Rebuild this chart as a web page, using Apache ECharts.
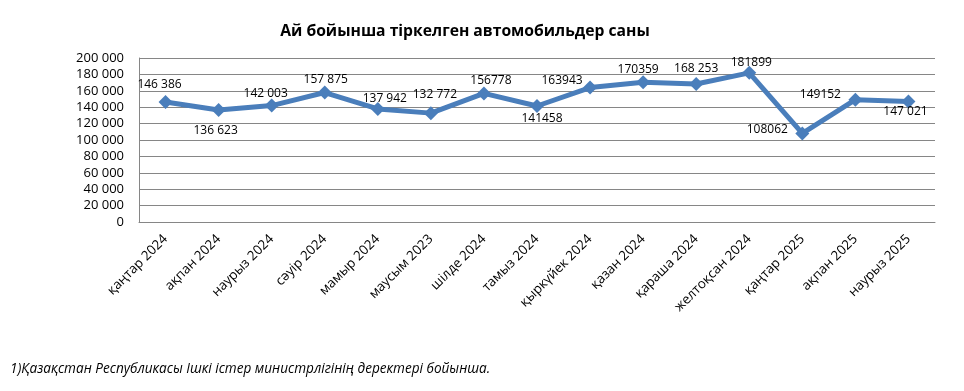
<!DOCTYPE html>
<html><head><meta charset="utf-8">
<script src="https://cdn.jsdelivr.net/npm/echarts@6/dist/echarts.min.js"></script>
<style>html,body{margin:0;padding:0;background:#fff;}#c{width:964px;height:391px;}</style>
</head><body><div id="c"></div>
<script>
const categories = ['қаңтар 2024','ақпан 2024','наурыз 2024','сәуір 2024','мамыр 2024','маусым 2023','шілде 2024','тамыз 2024','қыркүйек 2024','қазан 2024','қараша 2024','желтоқсан 2024','қаңтар 2025','ақпан 2025','наурыз 2025'];
const values = [146386,136623,142003,157875,137942,132772,156778,141458,163943,170359,168253,181899,108062,149152,147021];
const labelTexts = ['146 386','136 623','142 003','157 875','137 942','132 772','156778','141458','163943','170359','168 253','181899','108062','149152','147 021'];
const yTicks = [0,20000,40000,60000,80000,100000,120000,140000,160000,180000,200000];
// label placement (styling): offset of label centre from its point, px
const labelOffsets = [[-6,-17],[-3,21],[-6,-12],[1,-13],[7,-10],[4,-19],[7,-13],[5,13],[-28,-7],[-5,-13],[0,-15],[2,-10],[-35,-4],[-35,-5],[-3,10]];

const fmt = v => v === 0 ? '0' : String(v).replace(/\B(?=(\d{3})+(?!\d))/g, ' ');
const data = values.map((v,i) => ({value:v, label:{position:'inside', offset:labelOffsets[i], formatter:() => labelTexts[i]}}));
const chart = echarts.init(document.getElementById('c'));
chart.setOption({
  animation:false,
  textStyle:{fontFamily:'Open Sans'},
  title:{text:'Ай бойынша тіркелген автомобильдер саны', left:460, top:19, textAlign:'center',
    textStyle:{fontSize:15.7, fontWeight:'bold', color:'#000', fontFamily:'Open Sans'}},
  grid:{left:139, right:29, top:58, bottom:169},
  xAxis:{type:'category', data:categories, boundaryGap:true,
    axisLine:{lineStyle:{color:'#868686'}}, axisTick:{show:false},
    axisLabel:{rotate:45, fontSize:13.3, color:'#000', margin:15, interval:0}},
  yAxis:{type:'value', min:0, max:200000, interval:20000,
    axisLine:{show:true, lineStyle:{color:'#868686'}}, axisTick:{show:false},
    splitLine:{lineStyle:{color:'#868686'}},
    axisLabel:{fontSize:13, color:'#000', margin:15, formatter:v => yTicks.includes(v) ? fmt(v) : ''}},
  series:[{type:'line', data:data, symbol:'diamond', symbolSize:14,
    lineStyle:{color:'#4a7ebb', width:5}, itemStyle:{color:'#4a7ebb'},
    label:{show:true, fontSize:12, color:'#000'}}],
  graphic:[{type:'text', left:10, top:362, style:{text:'1)Қазақстан Республикасы Ішкі істер министрлігінің деректері бойынша.',
    font:'italic 13.6px "Open Sans"', fill:'#000'}}]
});
</script></body></html>
